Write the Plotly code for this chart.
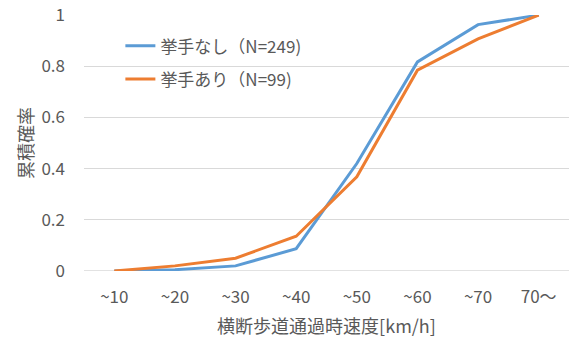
import plotly.graph_objects as go

categories = ["~10", "~20", "~30", "~40", "~50", "~60", "~70", "70〜"]
no_raise = [0.0, 0.005, 0.02, 0.087, 0.42, 0.817, 0.963, 1.0]
raise_hand = [0.0, 0.02, 0.05, 0.136, 0.368, 0.785, 0.907, 1.0]
series_names = ["挙手なし（N=249)", "挙手あり（N=99)"]
y_ticks = [0, 0.2, 0.4, 0.6, 0.8, 1]
y_tick_labels = ["0", "0.2", "0.4", "0.6", "0.8", "1"]

FONT = "Noto Sans CJK JP, Open Sans, sans-serif"
GRAY = "#595959"

fig = go.Figure()
fig.add_trace(go.Scatter(x=categories, y=no_raise, name=series_names[0], mode="lines",
                         legendgroup="a", line=dict(color="#5B9BD5", width=3)))
fig.add_trace(go.Scatter(x=categories, y=raise_hand, name=series_names[1], mode="lines",
                         legendgroup="b", line=dict(color="#ED7D31", width=3)))

fig.update_layout(
    width=569, height=343,
    margin=dict(l=84, r=0, t=15, b=72),
    paper_bgcolor="white", plot_bgcolor="white",
    font=dict(family=FONT, color=GRAY, size=17),
    showlegend=True,
    legend=dict(x=0.075, y=0.948, xanchor="left", yanchor="top",
                bgcolor="rgba(0,0,0,0)", font=dict(size=17, color=GRAY),
                traceorder="grouped", tracegroupgap=8, itemwidth=30),
    xaxis=dict(type="category", range=[-0.5, 7.5], showgrid=False, zeroline=False,
               showline=False, ticks="", tickfont=dict(size=17, color=GRAY),
               ticklabelstandoff=14, automargin=False,
               title=dict(text="横断歩道通過時速度[km/h]", font=dict(size=18, color=GRAY), standoff=13)),
    yaxis=dict(range=[0, 1.0005], tickvals=y_ticks, ticktext=y_tick_labels,
               showgrid=True, gridcolor="#D9D9D9", gridwidth=1, zeroline=False,
               showline=False, ticks="", tickfont=dict(size=17, color=GRAY),
               ticklabelstandoff=18, automargin=False, ticklabeloverflow="allow",
               title=dict(text="累積確率", font=dict(size=18, color=GRAY), standoff=3)),
)
fig.add_shape(type="line", xref="paper", yref="y", x0=0, x1=1, y0=0, y1=0,
              line=dict(color="#D9D9D9", width=1.5), layer="below")

fig.write_html("out.html", config={"displayModeBar": False},
               post_script="document.body.style.margin='0';")
